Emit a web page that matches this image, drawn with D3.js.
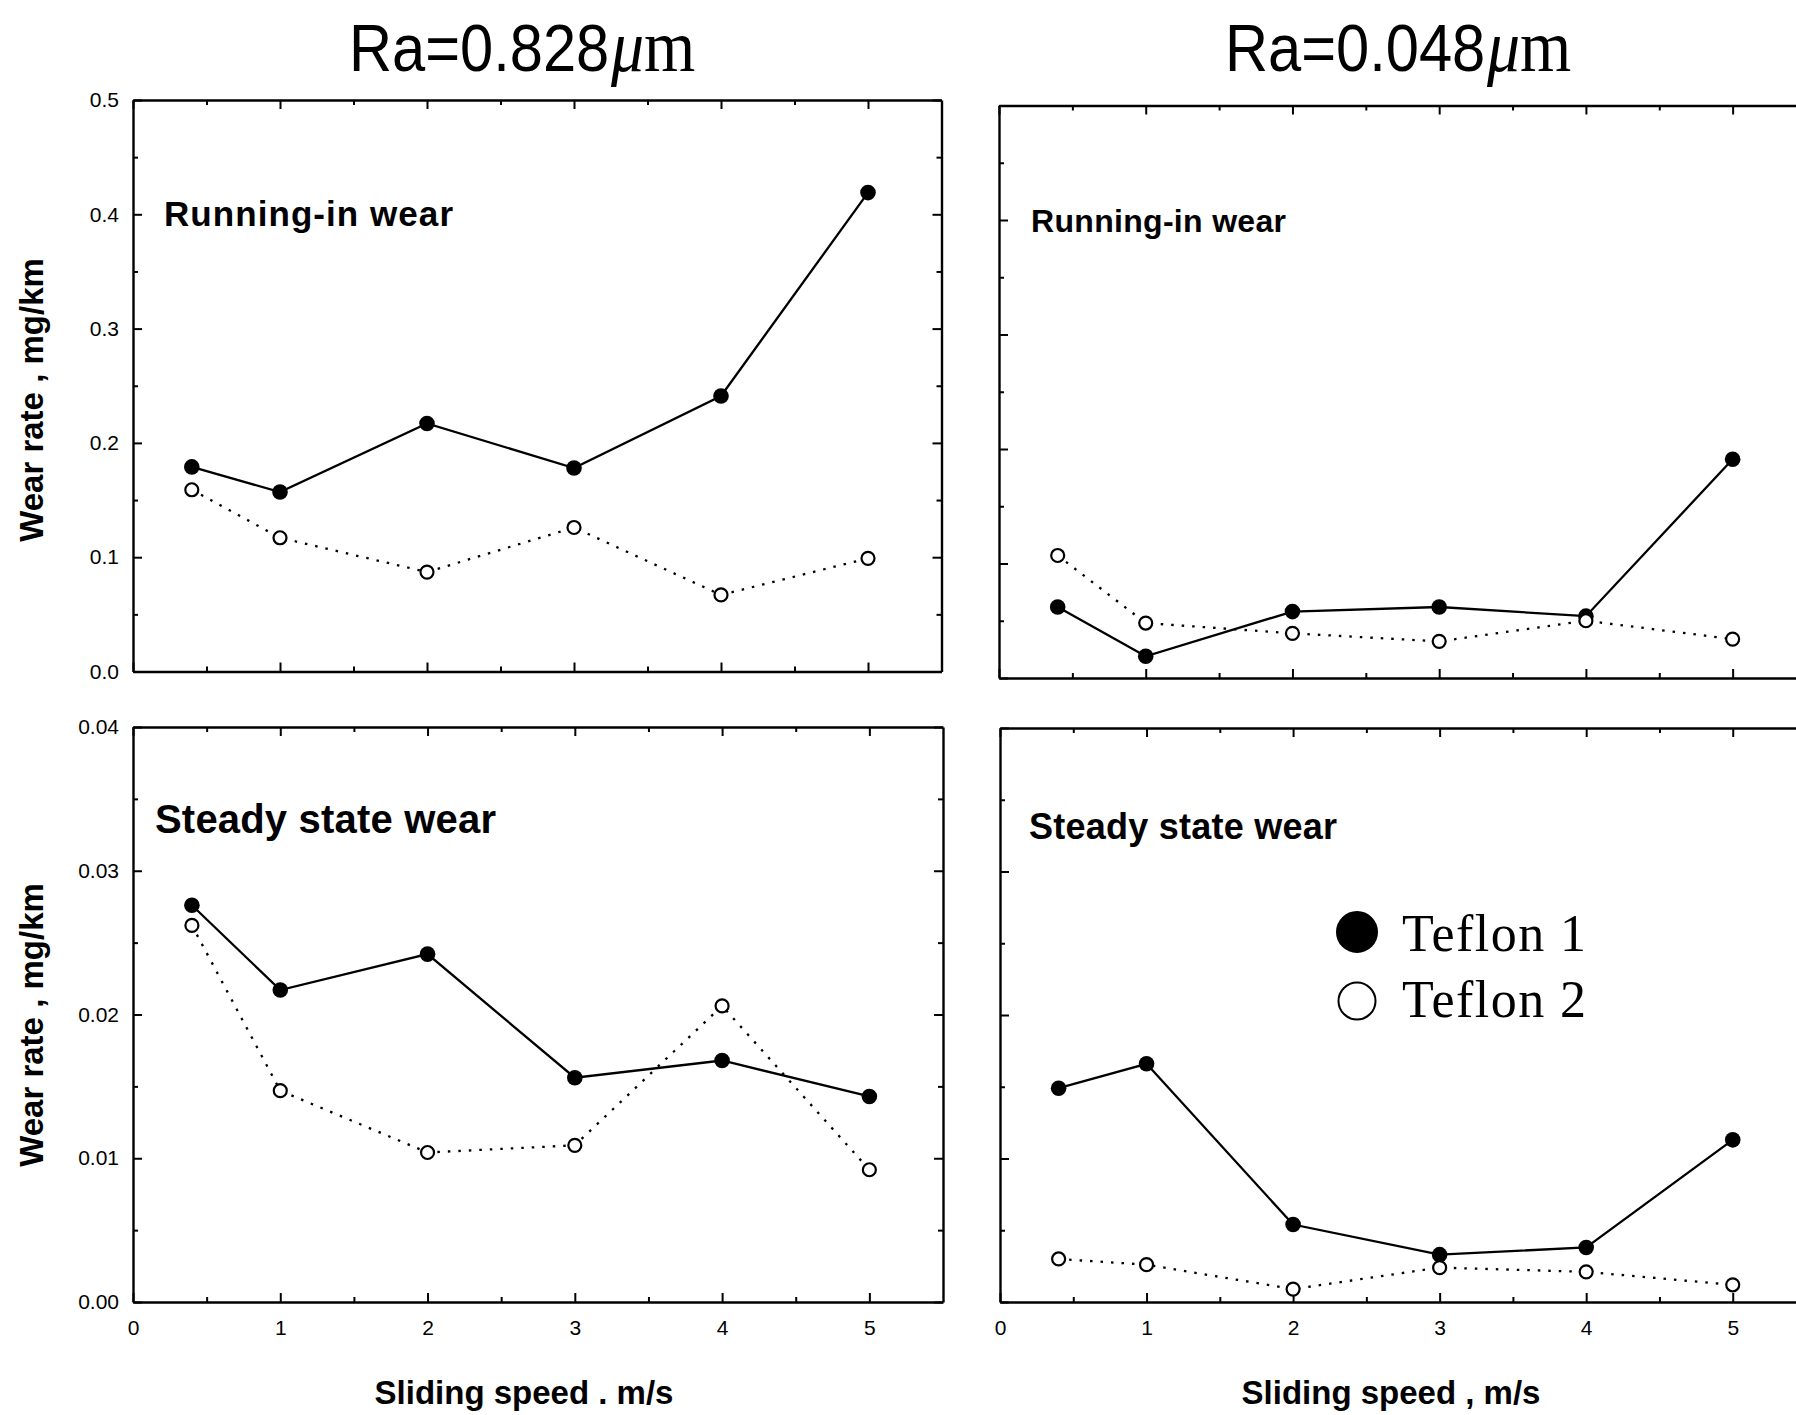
<!DOCTYPE html>
<html>
<head>
<meta charset="utf-8">
<script src="https://cdnjs.cloudflare.com/ajax/libs/d3/7.8.5/d3.min.js"></script>
<style>
  body { margin: 0; background: #fff; }
  svg { display: block; background: #fff; }
</style>
</head>
<body>
<svg width="1796" height="1415"></svg>
<script>
// sliding speeds, m/s
var speeds = [0.4, 1, 2, 3, 4, 5];

// wear rate, mg/km  (t1 = Teflon 1, t2 = Teflon 2)
var rough_running_t1 = [0.179, 0.157, 0.217, 0.178, 0.241, 0.419];
var rough_running_t2 = [0.159, 0.117, 0.087, 0.126, 0.067, 0.099];
var smooth_running_t1 = [0.062, 0.019, 0.058, 0.062, 0.054, 0.191];
var smooth_running_t2 = [0.107, 0.048, 0.039, 0.032, 0.050, 0.034];
var rough_steady_t1 = [0.0276, 0.0217, 0.0242, 0.0156, 0.0168, 0.0143];
var rough_steady_t2 = [0.0262, 0.0147, 0.0104, 0.0109, 0.0206, 0.0092];
var smooth_steady_t1 = [0.0149, 0.0166, 0.0054, 0.0033, 0.0038, 0.0113];
var smooth_steady_t2 = [0.0030, 0.0026, 0.0009, 0.0024, 0.0021, 0.0012];

var x_ticks = [0, 1, 2, 3, 4, 5];
var x_minor = [0.5, 1.5, 2.5, 3.5, 4.5];
var running_ticks = [0.0, 0.1, 0.2, 0.3, 0.4, 0.5];
var running_minor = [0.05, 0.15, 0.25, 0.35, 0.45];
var steady_ticks = [0.00, 0.01, 0.02, 0.03, 0.04];
var steady_minor = [0.005, 0.015, 0.025, 0.035];

var titles = ["Ra=0.828", "Ra=0.048"];
var panel_labels = ["Running-in wear", "Running-in wear", "Steady state wear", "Steady state wear"];
var x_titles = ["Sliding speed . m/s", "Sliding speed , m/s"];
var y_title = "Wear rate , mg/km";
var legend_labels = ["Teflon 1", "Teflon 2"];

var svg = d3.select("svg");
var tick_font = '"Liberation Sans Narrow", "Arial Narrow", "Liberation Sans", Arial, sans-serif';
var bold_font = '"Liberation Sans", Arial, Helvetica, sans-serif';

function blank() { return ''; }

function draw_axes(p, x, y) {
  var g = svg.append('g').attr('class', 'axis');
  var xfmt = p.x_labels ? d3.format('d') : blank;
  var yfmt = p.y_labels ? d3.format(p.y_fmt) : blank;

  g.append('g').attr('transform', 'translate(0,' + p.bottom + ')')
    .call(d3.axisBottom(x).tickValues(x_ticks).tickSize(-9).tickSizeOuter(0).tickPadding(18).tickFormat(xfmt));
  g.append('g').attr('transform', 'translate(0,' + p.bottom + ')')
    .call(d3.axisBottom(x).tickValues(x_minor).tickSize(-5).tickSizeOuter(0).tickFormat(blank))
    .call(function(s) { s.select('.domain').remove(); });

  g.append('g').attr('transform', 'translate(0,' + p.top + ')')
    .call(d3.axisTop(x).tickValues(x_ticks).tickSize(-9).tickSizeOuter(0).tickFormat(blank));
  g.append('g').attr('transform', 'translate(0,' + p.top + ')')
    .call(d3.axisTop(x).tickValues(x_minor).tickSize(-5).tickSizeOuter(0).tickFormat(blank))
    .call(function(s) { s.select('.domain').remove(); });

  g.append('g').attr('transform', 'translate(' + p.left + ',0)')
    .call(d3.axisLeft(y).tickValues(p.y_ticks).tickSize(-9).tickSizeOuter(0).tickPadding(14).tickFormat(yfmt));
  g.append('g').attr('transform', 'translate(' + p.left + ',0)')
    .call(d3.axisLeft(y).tickValues(p.y_minor).tickSize(-5).tickSizeOuter(0).tickFormat(blank))
    .call(function(s) { s.select('.domain').remove(); });

  g.append('g').attr('transform', 'translate(' + p.right + ',0)')
    .call(d3.axisRight(y).tickValues(p.y_ticks).tickSize(-9).tickSizeOuter(0).tickFormat(blank));
  g.append('g').attr('transform', 'translate(' + p.right + ',0)')
    .call(d3.axisRight(y).tickValues(p.y_minor).tickSize(-5).tickSizeOuter(0).tickFormat(blank))
    .call(function(s) { s.select('.domain').remove(); });

  g.selectAll('.domain').attr('stroke', '#000').attr('stroke-width', 2.4);
  g.selectAll('.tick line').attr('stroke', '#000').attr('stroke-width', 2);
  g.selectAll('g').attr('font-size', 21).attr('font-family', tick_font);
  g.selectAll('.tick text').attr('fill', '#000');
}

function draw_series(p, x, y) {
  var line = d3.line().x(function(d) { return x(d[0]); }).y(function(d) { return y(d[1]); });
  var t1 = d3.zip(speeds, p.t1);
  var t2 = d3.zip(speeds, p.t2);

  svg.append('path').datum(t1).attr('d', line)
    .attr('fill', 'none').attr('stroke', '#000').attr('stroke-width', 2.3);
  svg.append('path').datum(t2).attr('d', line)
    .attr('fill', 'none').attr('stroke', '#000').attr('stroke-width', 2.3)
    .attr('stroke-dasharray', '2.5,8');

  svg.append('g').selectAll('circle').data(t1).enter().append('circle')
    .attr('cx', function(d) { return x(d[0]); })
    .attr('cy', function(d) { return y(d[1]); })
    .attr('r', 7.8).attr('fill', '#000');
  svg.append('g').selectAll('circle').data(t2).enter().append('circle')
    .attr('cx', function(d) { return x(d[0]); })
    .attr('cy', function(d) { return y(d[1]); })
    .attr('r', 6.5).attr('fill', '#fff').attr('stroke', '#000').attr('stroke-width', 2.2);
}

function draw_panel(p) {
  var x = d3.scaleLinear().domain([0, 5.5]).range([p.left, p.right]);
  var y = d3.scaleLinear().domain([0, p.y_max]).range([p.bottom, p.top]);
  draw_axes(p, x, y);
  draw_series(p, x, y);

  svg.append('text')
    .attr('x', p.label_x).attr('y', p.label_y)
    .attr('font-family', bold_font).attr('font-weight', 'bold')
    .attr('font-size', p.label_size).attr('textLength', p.label_len)
    .text(p.label);
}

function plot_it() {
  var panels = [
    { left: 133, right: 941.5, top: 100, bottom: 671.5, y_max: 0.5, y_ticks: running_ticks, y_minor: running_minor,
      y_fmt: '.1f', y_labels: true, x_labels: false, t1: rough_running_t1, t2: rough_running_t2,
      label: panel_labels[0], label_x: 164, label_y: 226, label_size: 35, label_len: 289 },
    { left: 999, right: 1806, top: 105.5, bottom: 678, y_max: 0.5, y_ticks: running_ticks, y_minor: running_minor,
      y_fmt: '.1f', y_labels: false, x_labels: false, t1: smooth_running_t1, t2: smooth_running_t2,
      label: panel_labels[1], label_x: 1031, label_y: 232, label_size: 32, label_len: 255 },
    { left: 133, right: 943, top: 727, bottom: 1302, y_max: 0.04, y_ticks: steady_ticks, y_minor: steady_minor,
      y_fmt: '.2f', y_labels: true, x_labels: true, t1: rough_steady_t1, t2: rough_steady_t2,
      label: panel_labels[2], label_x: 155, label_y: 833, label_size: 40, label_len: 341 },
    { left: 1000, right: 1806, top: 728, bottom: 1302, y_max: 0.04, y_ticks: steady_ticks, y_minor: steady_minor,
      y_fmt: '.2f', y_labels: false, x_labels: true, t1: smooth_steady_t1, t2: smooth_steady_t2,
      label: panel_labels[3], label_x: 1029, label_y: 839, label_size: 36, label_len: 308 }
  ];
  panels.forEach(draw_panel);

  // column titles
  var title_pos = [[349, 71], [1225, 71]];
  titles.forEach(function(t, i) {
    var tx = svg.append('text')
      .attr('transform', 'translate(' + title_pos[i][0] + ',' + title_pos[i][1] + ') scale(0.89,1)')
      .attr('font-family', '"Liberation Sans", Arial, sans-serif')
      .attr('font-size', 67).attr('fill', '#000');
    tx.append('tspan').text(t);
    tx.append('tspan').attr('font-family', '"Liberation Serif", "DejaVu Serif", serif')
      .attr('font-style', 'italic').attr('font-size', 74).attr('dx', 2).text('\u03bc');
    tx.append('tspan').attr('font-family', '"Liberation Serif", "DejaVu Serif", serif')
      .attr('font-size', 74).text('m');
  });

  // y titles
  [400, 1025].forEach(function(cy) {
    svg.append('text')
      .attr('transform', 'translate(43,' + cy + ') rotate(-90)')
      .attr('text-anchor', 'middle')
      .attr('font-family', bold_font).attr('font-weight', 'bold').attr('font-size', 33)
      .text(y_title);
  });

  // x titles
  [524, 1391].forEach(function(cx, i) {
    svg.append('text')
      .attr('x', cx).attr('y', 1404)
      .attr('text-anchor', 'middle')
      .attr('font-family', bold_font).attr('font-weight', 'bold').attr('font-size', 33)
      .text(x_titles[i]);
  });

  // legend in the lower right panel
  var leg = svg.append('g').attr('transform', 'translate(1357,932)');
  leg.selectAll('circle').data(legend_labels).enter().append('circle')
    .attr('cx', 0).attr('cy', function(d, i) { return i * 69; })
    .attr('r', function(d, i) { return i == 0 ? 20 : 18.5; })
    .attr('fill', function(d, i) { return i == 0 ? '#000' : '#fff'; })
    .attr('stroke', '#000').attr('stroke-width', 2);
  leg.selectAll('text').data(legend_labels).enter().append('text')
    .attr('x', 45).attr('y', function(d, i) { return 19 + i * 66; })
    .attr('font-family', '"Liberation Serif", "DejaVu Serif", serif')
    .attr('font-size', 52).attr('textLength', 184)
    .text(function(d) { return d; });
}

plot_it();
</script>
</body>
</html>
